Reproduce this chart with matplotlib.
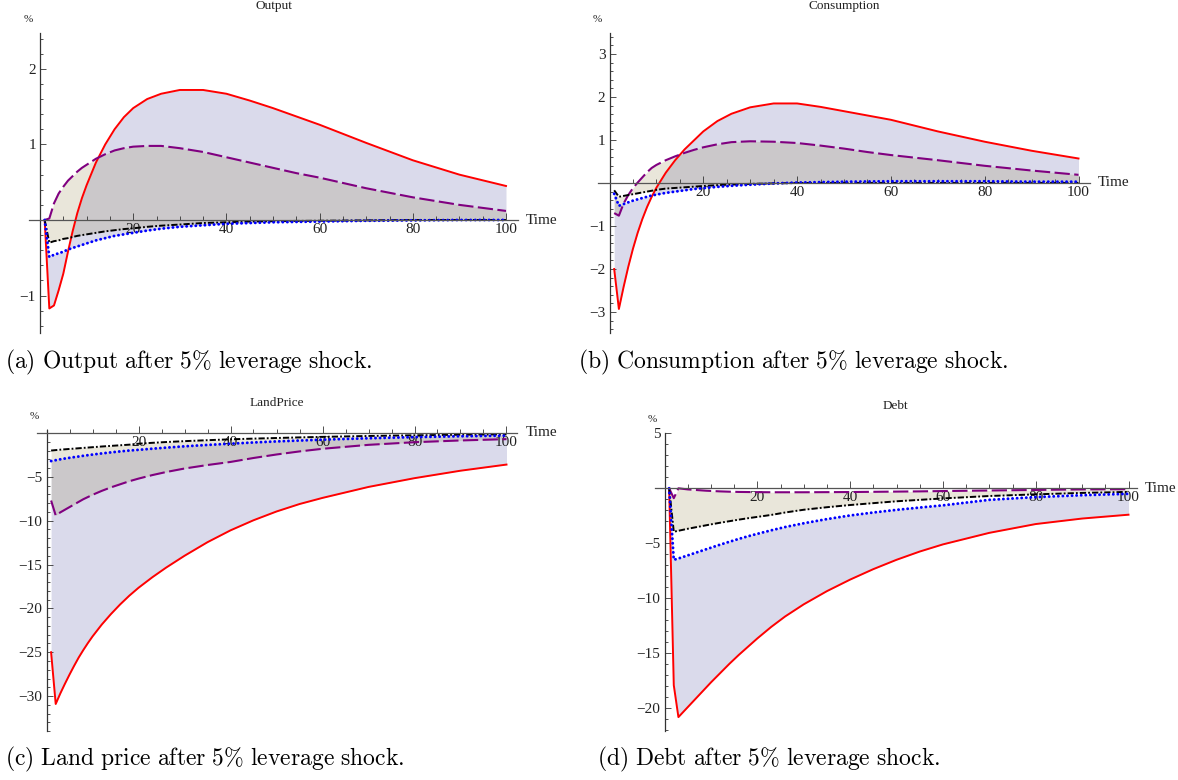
import matplotlib.pyplot as plt
from matplotlib.ticker import MultipleLocator, FixedLocator

plt.rcParams['font.family'] = ['Liberation Serif', 'DejaVu Serif']
plt.rcParams['mathtext.fontset'] = 'cm'
plt.rcParams['lines.scale_dashes'] = False

W, H = 1178, 780

# time index shared by all impulse responses
t = [1, 2, 3, 4, 5, 6, 7, 8, 9, 10, 12, 14, 16, 18, 20, 23, 26, 30, 35, 40, 45, 50, 55, 60, 70, 80, 90, 100]

# Output
out_red = [0, -1.17, -1.13, -0.93, -0.71, -0.42, -0.15, 0.09, 0.29, 0.46, 0.76, 1.00, 1.20, 1.36, 1.48,
           1.60, 1.67, 1.72, 1.72, 1.67, 1.58, 1.48, 1.37, 1.26, 1.02, 0.79, 0.60, 0.45]
out_purple = [0, 0.02, 0.22, 0.35, 0.44, 0.52, 0.58, 0.64, 0.69, 0.73, 0.81, 0.87, 0.92, 0.95, 0.97,
              0.98, 0.98, 0.95, 0.90, 0.83, 0.76, 0.69, 0.62, 0.56, 0.42, 0.30, 0.20, 0.12]
out_black = [0, -0.30, -0.28, -0.27, -0.25, -0.24, -0.225, -0.21, -0.20, -0.19, -0.17, -0.15, -0.135,
             -0.12, -0.11, -0.09, -0.075, -0.06, -0.04, -0.03, -0.02, -0.015, -0.012, -0.01, -0.005,
             0, 0, 0]
out_blue = [0, -0.49, -0.46, -0.44, -0.42, -0.39, -0.37, -0.35, -0.33, -0.31, -0.27, -0.24, -0.21,
            -0.19, -0.17, -0.14, -0.115, -0.09, -0.07, -0.05, -0.04, -0.03, -0.025, -0.02, -0.01,
            -0.005, 0, 0]

# Consumption
con_red = [-2.0, -2.93, -2.42, -1.95, -1.53, -1.16, -0.84, -0.56, -0.32, -0.11, 0.24, 0.53, 0.78, 0.99,
           1.20, 1.44, 1.61, 1.76, 1.85, 1.85, 1.77, 1.67, 1.57, 1.47, 1.20, 0.96, 0.75, 0.57]
con_purple = [-0.70, -0.76, -0.48, -0.28, -0.12, 0.01, 0.13, 0.25, 0.35, 0.42, 0.53, 0.62, 0.70, 0.77,
              0.83, 0.90, 0.95, 0.97, 0.96, 0.93, 0.87, 0.80, 0.72, 0.65, 0.53, 0.40, 0.29, 0.19]
con_black = [-0.17, -0.32, -0.30, -0.28, -0.26, -0.24, -0.22, -0.20, -0.18, -0.16, -0.13, -0.115, -0.10,
             -0.085, -0.07, -0.05, -0.035, -0.02, -0.01, 0, 0, 0, 0, 0, 0, 0, 0, 0]
con_blue = [-0.25, -0.53, -0.49, -0.45, -0.41, -0.38, -0.35, -0.32, -0.29, -0.27, -0.23, -0.20, -0.17,
            -0.14, -0.12, -0.09, -0.065, -0.04, -0.01, 0.01, 0.02, 0.03, 0.035, 0.04, 0.04, 0.04,
            0.03, 0.03]

# Land price
lp_red = [-25.0, -30.9, -29.7, -28.6, -27.55, -26.55, -25.6, -24.75, -23.95, -23.2, -21.85, -20.65,
          -19.55, -18.55, -17.65, -16.45, -15.35, -14.0, -12.45, -11.1, -9.95, -8.95, -8.1, -7.4,
          -6.15, -5.15, -4.3, -3.6]
lp_purple = [-7.7, -9.4, -9.05, -8.75, -8.45, -8.15, -7.85, -7.55, -7.3, -7.05, -6.6, -6.2, -5.85,
             -5.5, -5.2, -4.8, -4.45, -4.05, -3.65, -3.3, -2.85, -2.45, -2.1, -1.8, -1.35, -1.05,
             -0.85, -0.7]
lp_black = [-2.0, -1.95, -1.9, -1.86, -1.82, -1.78, -1.74, -1.7, -1.66, -1.62, -1.54, -1.47, -1.40,
            -1.33, -1.22, -1.12, -1.03, -0.93, -0.82, -0.72, -0.64, -0.57, -0.5, -0.44, -0.34,
            -0.26, -0.2, -0.15]
lp_blue = [-3.2, -3.1, -3.0, -2.91, -2.83, -2.75, -2.68, -2.6, -2.53, -2.46, -2.33, -2.21, -2.1, -2.0,
           -1.92, -1.79, -1.67, -1.52, -1.36, -1.22, -1.08, -0.96, -0.86, -0.76, -0.6, -0.47,
           -0.37, -0.3]

# Debt
d_red = [0, -17.9, -20.8, -20.35, -19.9, -19.45, -19.0, -18.55, -18.1, -17.65, -16.8, -15.95, -15.15,
         -14.4, -13.65, -12.6, -11.65, -10.55, -9.35, -8.3, -7.35, -6.5, -5.75, -5.1, -4.05, -3.25,
         -2.75, -2.4]
d_purple = [0, -0.9, 0.0, -0.05, -0.1, -0.13, -0.16, -0.19, -0.22, -0.24, -0.28, -0.31, -0.33, -0.34,
            -0.35, -0.36, -0.36, -0.36, -0.35, -0.34, -0.32, -0.3, -0.28, -0.25, -0.2, -0.15, -0.1,
            -0.08]
d_black = [0, -3.95, -3.86, -3.77, -3.68, -3.6, -3.52, -3.44, -3.36, -3.28, -3.13, -2.99, -2.85,
           -2.72, -2.6, -2.42, -2.2, -1.95, -1.72, -1.52, -1.35, -1.18, -1.05, -0.92, -0.7, -0.55,
           -0.42, -0.33]
d_blue = [0, -6.5, -6.38, -6.24, -6.1, -5.96, -5.82, -5.68, -5.54, -5.4, -5.12, -4.86, -4.6, -4.36,
          -4.14, -3.82, -3.52, -3.18, -2.8, -2.47, -2.2, -1.96, -1.75, -1.55, -1.05, -0.8, -0.63,
          -0.5]

panels = [
    dict(title='Output', caption=r'$\mathrm{(a)\ Output\ after\ 5\%\ leverage\ shock.}$',
         series=(out_red, out_purple, out_black, out_blue),
         x0=40, sx=4.66, xlim=(-2.3, 102.5), y0=220, sy=75.6, ylim=(-1.49, 2.48),
         yticks=[-1, 1, 2], yminor=0.2, cap_xy=(5, 362)),
    dict(title='Consumption', caption=r'$\mathrm{(b)\ Consumption\ after\ 5\%\ leverage\ shock.}$',
         series=(con_red, con_purple, con_black, con_blue),
         x0=609.5, sx=4.69, xlim=(-2.4, 102.4), y0=183, sy=43, ylim=(-3.5, 3.5),
         yticks=[-3, -2, -1, 1, 2, 3], yminor=0.2, cap_xy=(578, 362)),
    dict(title='LandPrice', caption=r'$\mathrm{(c)\ Land\ price\ after\ 5\%\ leverage\ shock.}$',
         series=(lp_red, lp_purple, lp_black, lp_blue),
         x0=46.5, sx=4.6, xlim=(-2.1, 102.3), y0=433, sy=8.77, ylim=(-34, 0.35),
         yticks=[-30, -25, -20, -15, -10, -5], yminor=1, cap_xy=(5, 759)),
    dict(title='Debt', caption=r'$\mathrm{(d)\ Debt\ after\ 5\%\ leverage\ shock.}$',
         series=(d_red, d_purple, d_black, d_blue),
         x0=664.5, sx=4.64, xlim=(-2.1, 101.8), y0=488.3, sy=11, ylim=(-22.05, 5.03),
         yticks=[-20, -15, -10, -5, 5], yminor=1, cap_xy=(597, 759)),
]

fig = plt.figure(figsize=(W / 100, H / 100), dpi=100)

for p in panels:
    left = p['x0'] + p['xlim'][0] * p['sx']
    right = p['x0'] + p['xlim'][1] * p['sx']
    top = p['y0'] - p['ylim'][1] * p['sy']
    bottom = p['y0'] - p['ylim'][0] * p['sy']
    ax = fig.add_axes([left / W, 1 - bottom / H, (right - left) / W, (bottom - top) / H])
    ax.patch.set_alpha(0)
    red, purple, black, blue = p['series']

    ax.fill_between(t, red, blue, color=(70 / 255, 70 / 255, 155 / 255), alpha=0.2, lw=0)
    ax.fill_between(t, purple, black, color=(145 / 255, 130 / 255, 70 / 255), alpha=0.2, lw=0)

    ax.plot(t, red, color='#ff0000', lw=1.4)
    ax.plot(t, purple, color='#800080', lw=1.5, linestyle=(0, (11, 3.2)))
    ax.plot(t, black, color='black', lw=1.4, linestyle=(0, (4.5, 1.5, 1.3, 1.5)))
    ax.plot(t, blue, color='#0000ff', lw=2.1, linestyle=(0, (0.1, 3.2)), dash_capstyle='round')

    ax.set_xlim(*p['xlim'])
    ax.set_ylim(*p['ylim'])
    for side in ('top', 'right'):
        ax.spines[side].set_visible(False)
    ax.spines['left'].set_position(('data', 0))
    ax.spines['bottom'].set_position(('data', 0))
    ax.spines['left'].set_color('#333333')
    ax.spines['bottom'].set_color('#555555')
    ax.spines['left'].set_linewidth(0.9)
    ax.spines['bottom'].set_linewidth(0.9)

    ax.xaxis.set_major_locator(FixedLocator([20, 40, 60, 80, 100]))
    ax.xaxis.set_minor_locator(MultipleLocator(5))
    ax.yaxis.set_major_locator(FixedLocator(p['yticks']))
    ax.yaxis.set_minor_locator(MultipleLocator(p['yminor']))
    ax.tick_params(which='both', direction='in', colors='#333333', labelcolor='#222222',
                   labelsize=11, width=0.6)
    ax.tick_params(axis='x', which='major', length=5, pad=2)
    ax.tick_params(axis='x', which='minor', length=3)
    ax.tick_params(axis='y', which='major', length=4, pad=3)
    ax.tick_params(axis='y', which='minor', length=2)

    ax.annotate('Time', xy=(1, 0), xycoords=('axes fraction', 'data'), xytext=(6, 0),
                textcoords='offset points', ha='left', va='center', fontsize=11, color='#222222')

    cx = (left + right) / 2
    fig.text(cx / W, 1 - (top - 27) / H, p['title'], ha='center', va='center',
             fontsize=9.5, color='#222222')
    fig.text((p['x0'] - 12) / W, 1 - (top - 13) / H, '%', ha='center', va='center',
             fontsize=8, color='#222222')
    fig.text(p['cap_xy'][0] / W, 1 - p['cap_xy'][1] / H, p['caption'], ha='left', va='center',
             fontsize=17)

fig.savefig('out.png', dpi=100)
